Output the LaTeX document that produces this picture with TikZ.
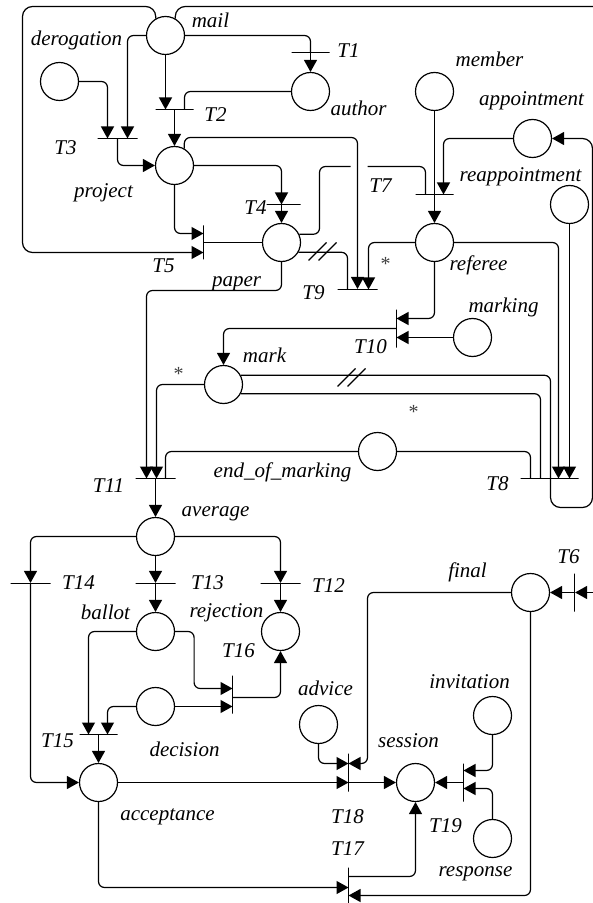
\documentclass[tikz,border=0pt]{standalone}
\usepackage{amsmath}
\usepackage{fontspec}
\setmainfont{Liberation Serif}
\usetikzlibrary{arrows.meta,calc}

\begin{document}
\begin{tikzpicture}[x=0.5pt,y=-0.5pt,line width=0.6pt,rounded corners=3pt,
        place/.style={circle,draw,minimum size=19pt,inner sep=0pt},
        hbar/.style={draw,sharp corners,minimum width=19pt,minimum height=0pt,inner sep=0pt},
        vbar/.style={draw,sharp corners,minimum height=19pt,minimum width=0pt,inner sep=0pt},
        lbl/.style={font=\fontsize{10.5}{12}\selectfont\itshape,inner sep=0pt},
        star/.style={font=\normalsize,text=black!75,inner sep=0pt},
        arc/.style={-{Triangle[length=6pt,width=6.5pt]}},
        pics/weight/.style={code={
            \draw[sharp corners] (-14,9) -- (4,-9);
            \draw[sharp corners] (-4,9) -- (14,-9);}}]
            \useasboundingbox (0,0) rectangle (593,903);
            \begin{scope}[xshift=0.25pt,yshift=-0.25pt]

            \node[place] (mail) at (165,35) {};
            \node[place] (derogation) at (59,81) {};
            \node[place] (author) at (310,91) {};
            \node[place] (project) at (174,165) {};
            \node[place] (paper) at (281,242) {};
            \node[place] (member) at (434,91) {};
            \node[place] (appointment) at (532,138) {};
            \node[place] (reappointment) at (569,204) {};
            \node[place] (referee) at (434,242) {};
            \node[place] (marking) at (472,337) {};
            \node[place] (mark) at (223,384) {};
            \node[place] (endmarking) at (377,451) {};
            \node[place] (average) at (155,536) {};
            \node[place] (ballot) at (155,631) {};
            \node[place] (rejection) at (280,631) {};
            \node[place] (decision) at (155,706) {};
            \node[place] (acceptance) at (98,782) {};
            \node[place] (advice) at (318,724) {};
            \node[place] (invitation) at (492,715) {};
            \node[place] (session) at (415,782) {};
            \node[place] (response) at (492,838) {};
            \node[place] (final) at (530,592) {};

            \node[hbar] (t1) at (310,52) {};
            \node[hbar] (t2) at (174,109) {};
            \node[hbar,minimum width=20pt] (t3) at (117,138) {};
            \node[hbar,minimum width=17pt] (t4) at (283,204) {};
            \node[vbar,minimum height=17pt] (t5) at (203,242) {};
            \node[vbar] (t6) at (574,592) {};
            \node[hbar] (t7) at (434,194) {};
            \node[hbar,minimum width=29pt] (t8) at (549,478) {};
            \node[hbar,minimum width=20pt] (t9) at (357,289) {};
            \node[vbar] (t10) at (396,328) {};
            \node[hbar,minimum width=20pt] (t11) at (155,478) {};
            \node[hbar,minimum width=20pt] (t12) at (280,583) {};
            \node[hbar,minimum width=20pt] (t13) at (155,583) {};
            \node[hbar,minimum width=20pt] (t14) at (30,583) {};
            \node[hbar] (t15) at (98,734) {};
            \node[vbar] (t16) at (232,694) {};
            \node[vbar,minimum height=18pt] (t17) at (348,885) {};
            \node[vbar] (t18) at (348,772) {};
            \node[vbar] (t19) at (463,782) {};

            \coordinate (outtop) at (595,6);
            \coordinate (outt6) at (596,592);

            \draw (mail) -| (t1);
            \draw[arc] (t1) -- (author);
            \draw[arc] (mail) -- (mail |- t2);
            \draw (author) -| ($(t2)+(10,0)$);
            \draw[arc] (t2) -- (project);
            \draw[arc] (mail) -| ($(t3)+(10,0)$);
            \draw[arc] (derogation) -| ($(t3)+(-10,0)$);
            \draw[arc] (t3) |- (project);
            \draw[arc,rounded corners=5pt] (mail.120) |- (22,6) |- ($(t5)+(0,10)$);
            \draw[rounded corners=5pt] (mail.60) |- (outtop);
            \draw[arc] (project) -| ($(t4)+(-2,0)$);
            \draw[arc] ($(t4)+(-2,0)$) -- (paper);
            \draw[arc] (project) |- ($(t5)+(0,-9)$);
            \draw (t5) -- (paper);
            \draw[arc] (project.60) |- (357,137) -- (t9);
            \draw (paper.25) -| (319,166) -- (350,166);
            \draw (367,166) -| ($(t7)+(-9,0)$);
            \draw (paper.-30) -| ($(t9)+(-10,0)$);
            \pic at (322,251) {weight};
            \draw[arc] (referee) -| ($(t9)+(11,0)$);
            \node[star] (s1) at (385,263) {*};
            \draw (member) -- (t7);
            \draw[arc] (t7) -- (referee);
            \draw[arc] (appointment) -| ($(t7)+(9,0)$);
            \draw[arc] (referee) -| ($(t8)+(9,0)$);
            \draw[arc] (reappointment) -- (reappointment |- t8);
            \draw[arc] (referee) |- ($(t10)+(0,-10)$);
            \draw[arc] (marking) -- (marking -| t10);
            \draw[arc] (t10) -| (mark);
            \draw (mark.28) -| ($(t8)+(1,0)$);
            \pic at (351,377) {weight};
            \draw (mark.-28) -| ($(t8)+(-9,0)$);
            \node[star] (s2) at (413,411) {*};
            \draw (endmarking) -| ($(t8)+(-19,0)$);
            \draw[arc,rounded corners=5pt] ($(t8)+(1,0)$) |- (592,507) |- (appointment);
            \draw[arc] (mark) -| ($(t11)+(1,0)$);
            \node[star] (s3) at (178,373) {*};
            \draw[arc] (paper) -- ++(0,48) -| ($(t11)+(-9,0)$);
            \draw (endmarking) -| ($(t11)+(10,0)$);
            \draw[arc] (t11) -- (average);
            \draw[arc] (average) -| (t14);
            \draw[arc] (t14) |- (acceptance);
            \draw[arc] (average) -- (t13);
            \draw[arc] (t13) -- (ballot);
            \draw[arc] (average) -| (t12);
            \draw[arc] (t12) -- (rejection);
            \draw[arc] (ballot) -| ($(t15)+(-10,0)$);
            \draw[arc] (decision) -| ($(t15)+(9,0)$);
            \draw[arc] (t15) -- (acceptance);
            \draw[arc] (ballot.east) -- ++(19,0) |- ($(t16)+(0,-6)$);
            \draw[arc] (decision) -- (decision -| t16);
            \draw[arc] ($(t16)+(0,3)$) -| (rejection);
            \draw[arc] (acceptance) -- (acceptance -| t18);
            \draw[arc] (advice) |- ($(t18)+(0,-9)$);
            \draw[arc] (final) -| ($(t18)+(19,-9)$) -- ($(t18)+(0,-9)$);
            \draw[arc] ($(t18)+(0,10)$) -- (session);
            \draw[arc] (invitation) |- ($(t19)+(0,-12)$);
            \draw[arc] (response) |- ($(t19)+(0,6)$);
            \draw[arc] (t19) -- (session);
            \draw[arc] (acceptance) |- ($(t17)+(0,2)$);
            \draw[arc] (final) |- ($(t17)+(0,10)$);
            \draw[arc] ($(t17)+(0,-9)$) -| (session);
            \draw[arc] (outt6) -- (t6);
            \draw[arc] (t6) -- (final);

            \node[lbl] (l-mail) at (210,20) {mail};
            \node[lbl] (l-derogation) at (76,40) {derogation};
            \node[lbl] (l-t1) at (348,50) {T1};
            \node[lbl] (l-author) at (358,108) {author};
            \node[lbl] (l-t2) at (215,114) {T2};
            \node[lbl] (l-t3) at (65,147) {T3};
            \node[lbl] (l-project) at (103,192) {project};
            \node[lbl] (l-t4) at (255,207) {T4};
            \node[lbl] (l-t5) at (163,265) {T5};
            \node[lbl] (l-paper) at (236,283) {paper};
            \node[lbl] (l-t7) at (380,185) {T7};
            \node[lbl] (l-member) at (489,59) {member};
            \node[lbl] (l-appointment) at (531,100) {appointment};
            \node[lbl] (l-reappointment) at (520,176) {reappointment};
            \node[lbl] (l-referee) at (478,265) {referee};
            \node[lbl] (l-t9) at (313,292) {T9};
            \node[lbl] (l-marking) at (503,307) {marking};
            \node[lbl] (l-t10) at (370,346) {T10};
            \node[lbl] (l-mark) at (264,355) {mark};
            \node[lbl] (l-endmarking) at (282,472) {end\_of\_marking};
            \node[lbl] (l-t11) at (108,485) {T11};
            \node[lbl] (l-t8) at (497,483) {T8};
            \node[lbl] (l-average) at (215,513) {average};
            \node[lbl] (l-t14) at (78,582) {T14};
            \node[lbl] (l-t13) at (207,582) {T13};
            \node[lbl] (l-t12) at (328,585) {T12};
            \node[lbl] (l-ballot) at (105,612) {ballot};
            \node[lbl] (l-rejection) at (226,612) {rejection};
            \node[lbl] (l-t6) at (568,556) {T6};
            \node[lbl] (l-final) at (467,572) {final};
            \node[lbl] (l-t16) at (238,650) {T16};
            \node[lbl] (l-advice) at (325,688) {advice};
            \node[lbl] (l-invitation) at (469,681) {invitation};
            \node[lbl] (l-session) at (408,740) {session};
            \node[lbl] (l-decision) at (184,749) {decision};
            \node[lbl] (l-t15) at (57,740) {T15};
            \node[lbl] (l-acceptance) at (167,816) {acceptance};
            \node[lbl] (l-t18) at (347,816) {T18};
            \node[lbl] (l-t19) at (445,825) {T19};
            \node[lbl] (l-t17) at (347,848) {T17};
            \node[lbl] (l-response) at (475,873) {response};
            \end{scope}
        \end{tikzpicture}
\end{document}
